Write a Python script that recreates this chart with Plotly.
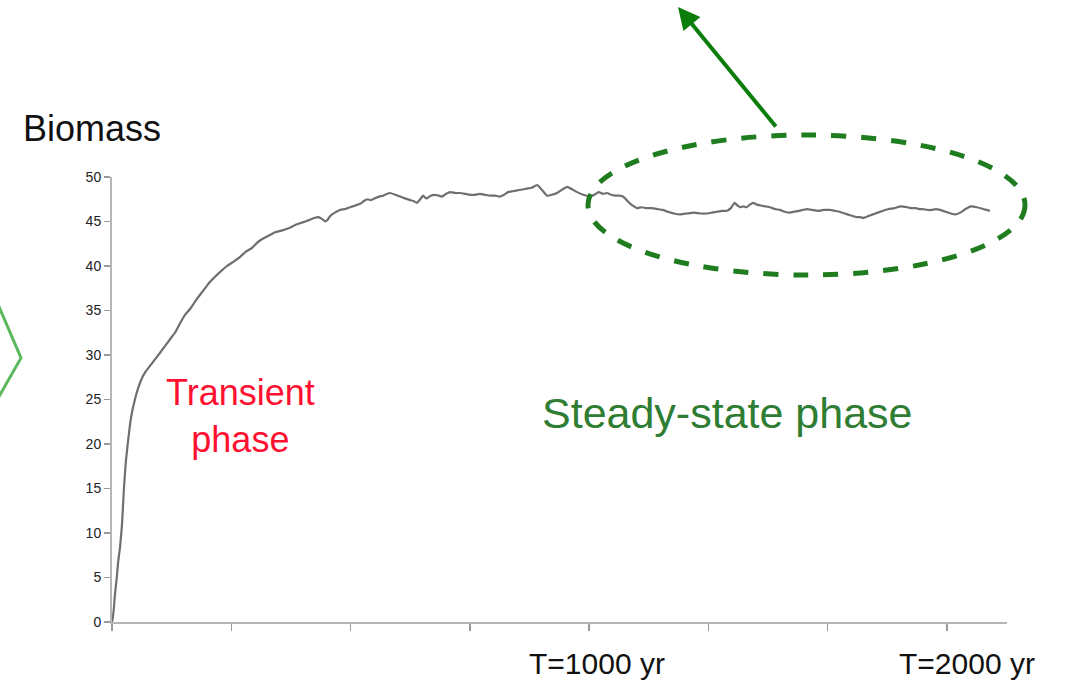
import plotly.graph_objects as go

# Time (years) and biomass values
years = [0, 2, 4, 6, 8, 10, 13, 17, 21, 25, 29, 34, 40, 48, 55, 62, 70, 80, 90, 100,
         111, 122, 132, 143, 153, 164, 174, 185, 195, 205, 216, 228, 241, 255, 268,
         280, 293, 304, 314, 328, 342, 357, 373, 384, 394, 405, 415, 424, 432, 440,
         447, 452, 457, 467, 478, 489, 499, 510, 520, 528, 535, 543, 551, 560, 568,
         576, 583, 594, 604, 614, 625, 632, 639, 646, 652, 656, 660, 668, 677, 685,
         692, 700, 709, 720, 730, 741, 751, 761, 771, 782, 792, 803, 813, 822, 830,
         840, 849, 860, 870, 880, 891, 902, 912, 922, 933, 944, 954, 965, 975, 988,
         1002, 1011, 1020, 1029, 1038, 1046, 1055, 1063, 1071, 1079, 1086, 1094,
         1101, 1110, 1120, 1132, 1143, 1154, 1165, 1178, 1191, 1205, 1220, 1233,
         1247, 1258, 1268, 1279, 1289, 1297, 1305, 1311, 1317, 1323, 1330, 1337,
         1344, 1352, 1360, 1370, 1379, 1390, 1400, 1410, 1421, 1430, 1440, 1448,
         1457, 1468, 1480, 1492, 1505, 1515, 1525, 1536, 1547, 1553, 1560, 1567,
         1574, 1585, 1595, 1605, 1616, 1628, 1640, 1653, 1667, 1676, 1685, 1692,
         1700, 1709, 1718, 1727, 1736, 1747, 1758, 1768, 1778, 1789, 1800, 1813,
         1826, 1833, 1840, 1848, 1855, 1861, 1866, 1871, 1876]
biomass = [0, 0.6, 1.6, 3, 4, 5, 6.8, 8.5, 11, 15, 18, 20.5, 23, 25, 26.3, 27.3, 28.1,
           28.8, 29.5, 30.2, 31, 31.8, 32.5, 33.6, 34.5, 35.2, 36, 36.8, 37.5, 38.2,
           38.8, 39.4, 40, 40.5, 41, 41.6, 42, 42.6, 43, 43.4, 43.8, 44.0, 44.3, 44.6,
           44.8, 45.0, 45.2, 45.4, 45.5, 45.3, 45.0, 45.2, 45.6, 46.0, 46.3, 46.4,
           46.6, 46.8, 47.0, 47.3, 47.5, 47.4, 47.6, 47.8, 47.9, 48.1, 48.2, 48.0,
           47.8, 47.6, 47.4, 47.3, 47.1, 47.5, 47.9, 47.7, 47.6, 47.9, 48.0, 47.9,
           47.8, 48.1, 48.3, 48.2, 48.2, 48.1, 48.0, 48.0, 48.1, 48.0, 47.9, 47.9,
           47.8, 48.0, 48.3, 48.4, 48.5, 48.6, 48.7, 48.8, 49.1, 48.5, 47.9, 48.0,
           48.2, 48.6, 48.9, 48.6, 48.3, 48.0, 47.8, 48.0, 48.3, 48.1, 48.2, 48.0,
           47.9, 47.9, 47.8, 47.4, 47.0, 46.7, 46.5, 46.6, 46.5, 46.5, 46.4, 46.3,
           46.1, 45.9, 45.8, 45.9, 46.0, 45.9, 45.9, 46.0, 46.1, 46.2, 46.2, 46.5,
           47.1, 46.8, 46.6, 46.7, 46.6, 46.9, 47.1, 46.9, 46.8, 46.7, 46.6, 46.4,
           46.3, 46.1, 46.0, 46.1, 46.2, 46.3, 46.4, 46.3, 46.2, 46.3, 46.3, 46.2,
           46.1, 45.9, 45.7, 45.6, 45.5, 45.5, 45.4, 45.6, 45.8, 46.0, 46.2, 46.4,
           46.5, 46.7, 46.6, 46.5, 46.5, 46.4, 46.4, 46.3, 46.3, 46.4, 46.3, 46.1,
           45.9, 45.8, 46.0, 46.4, 46.7, 46.6, 46.4, 46.3, 46.2]

y_ticks = [0, 5, 10, 15, 20, 25, 30, 35, 40, 45, 50]
x_ticks = [0, 250, 500, 750, 1000, 1250, 1500, 1750]

W, H = 1069, 682
L, R, T, B = 112, 62, 177, 60
PW, PH = W - L - R, H - T - B


def px(x):
    return (x - L) / PW


def py(y):
    return (H - B - y) / PH


fig = go.Figure()
fig.add_trace(go.Scatter(x=years, y=biomass, mode="lines",
                         line=dict(color="#6f6f6f", width=2.2, shape="spline",
                                   smoothing=0.4),
                         hoverinfo="skip"))

green = "#1f7d1f"
FONT = "Liberation Sans, Arial, sans-serif"


def label(x, y, text, size, color):
    return dict(x=px(x), y=py(y), xref="paper", yref="paper", text=text,
                showarrow=False, xanchor="center", yanchor="middle",
                font=dict(size=size, color=color, family=FONT))


fig.update_layout(
    width=W, height=H,
    margin=dict(l=L, r=R, t=T, b=B),
    paper_bgcolor="white", plot_bgcolor="white",
    showlegend=False,
    font=dict(family=FONT),
    xaxis=dict(range=[0, 1876], tickvals=x_ticks, showticklabels=False,
               ticks="outside", ticklen=7, tickwidth=1.5, tickcolor="#9a9a9a",
               showline=True, linecolor="#b5b5b5", linewidth=2,
               showgrid=False, zeroline=False, fixedrange=True),
    yaxis=dict(range=[0, 50], tickvals=y_ticks, ticks="outside", ticklen=6,
               tickwidth=1.5, tickcolor="#9a9a9a", showline=True,
               linecolor="#b5b5b5", linewidth=2, showgrid=False, zeroline=False,
               tickfont=dict(size=14, color="#222222", family=FONT),
               fixedrange=True),
    shapes=[
        dict(type="circle", xref="paper", yref="paper",
             x0=px(588), x1=px(1025), y0=py(275), y1=py(135),
             line=dict(color=green, width=5, dash="dash")),
        dict(type="path", xref="paper", yref="paper",
             path=f"M {px(-3)},{py(302)} L {px(21)},{py(358)} L {px(-3)},{py(400)}",
             line=dict(color="#5cb85c", width=3)),
    ],
    annotations=[
        dict(x=px(678), y=py(7), xref="paper", yref="paper", text="",
             showarrow=True, ax=99, ay=121, axref="pixel", ayref="pixel",
             arrowhead=2, arrowsize=1.1, arrowwidth=4, arrowcolor="#0a7d0a"),
        label(92, 128, "Biomass", 36, "#111111"),
        label(240, 416, "Transient<br>phase", 36, "#ff1030"),
        label(727, 413, "Steady-state phase", 43, "#2e7d32"),
        label(597, 663, "T=1000 yr", 30, "#111111"),
        label(967, 663, "T=2000 yr", 30, "#111111"),
    ],
)

fig.write_html("out.html",
               config={"displayModeBar": False, "staticPlot": True},
               post_script="document.body.style.margin='0';"
                           "document.body.style.overflow='hidden';")
